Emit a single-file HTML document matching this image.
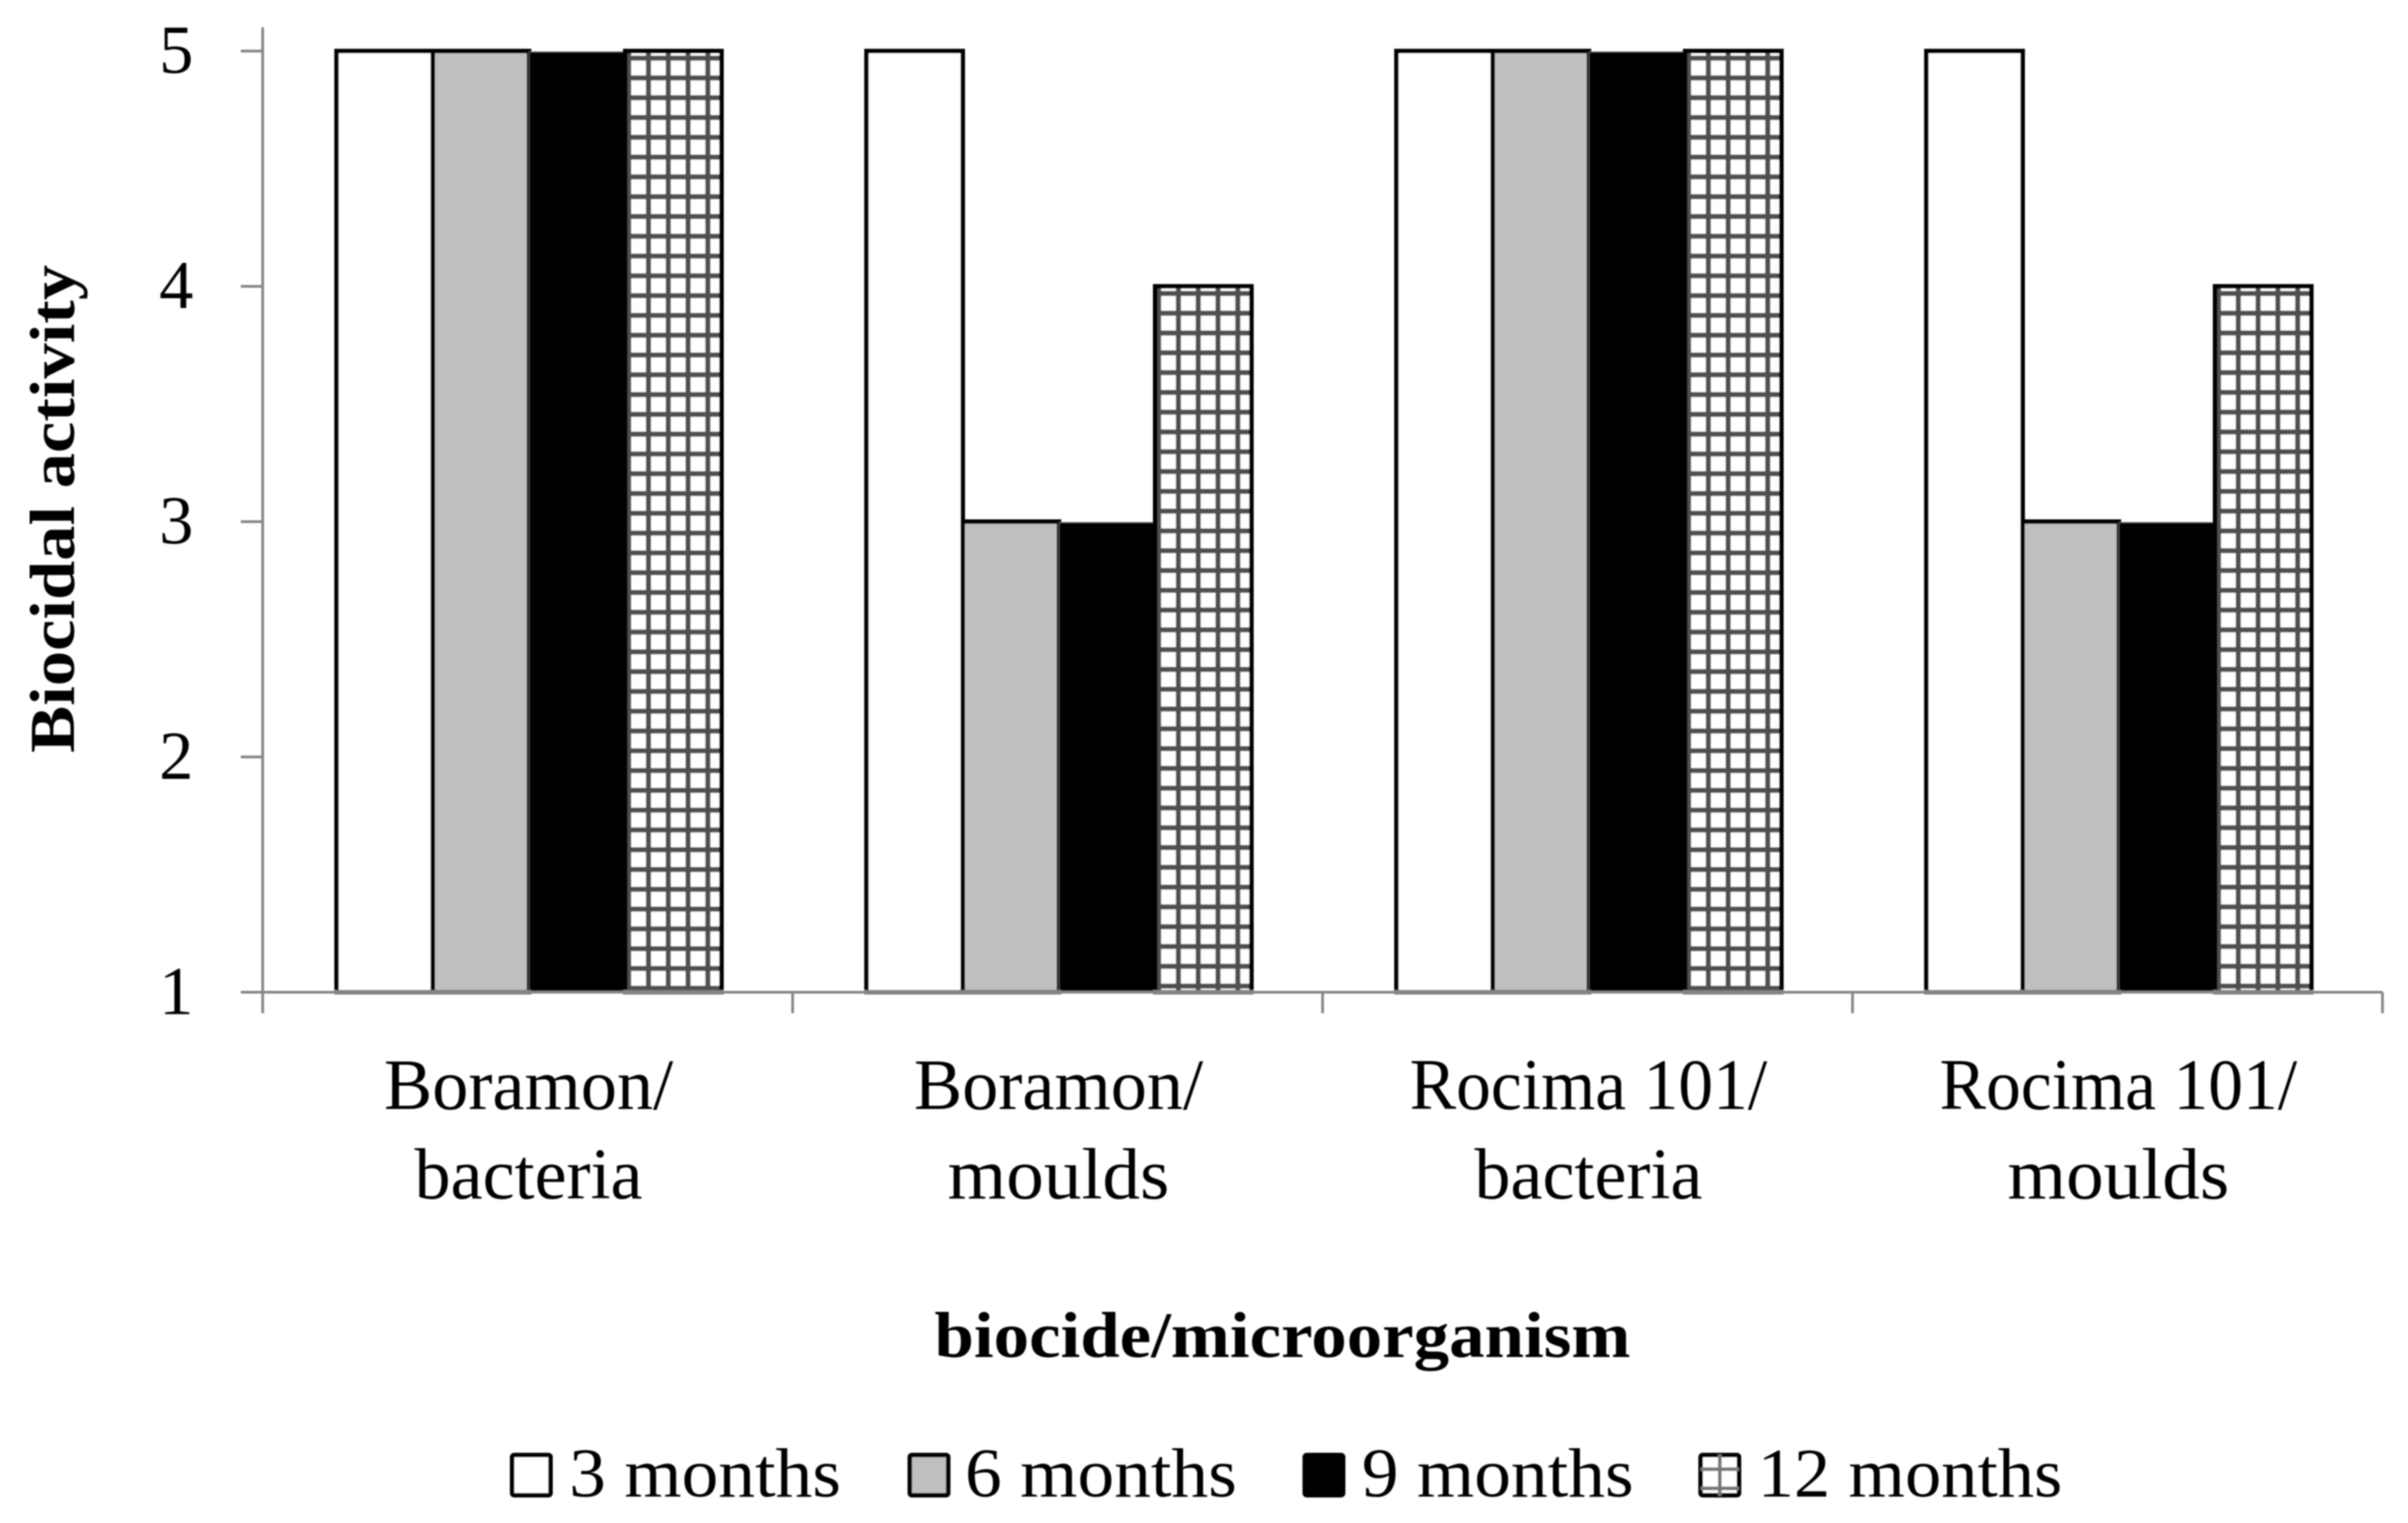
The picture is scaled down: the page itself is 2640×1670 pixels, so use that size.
<!DOCTYPE html>
<html lang="en">
<head>
<meta charset="utf-8">
<title>Biocidal activity chart</title>
<style>
html,body{margin:0;padding:0;background:#fff;}
body{width:2640px;height:1670px;overflow:hidden;}
svg{display:block;}
text{font-family:"Liberation Serif",serif;fill:#000;}
</style>
</head>
<body>
<svg id="chart" xmlns="http://www.w3.org/2000/svg" width="2640" height="1670" viewBox="0 0 2640 1670">
  <defs>
    <pattern id="grid-hatch" patternUnits="userSpaceOnUse" width="21.7" height="21.7">
      <rect width="21.7" height="21.7" fill="#fff"/>
      <rect x="0" y="0" width="5.5" height="21.7" fill="#505050"/>
      <rect x="0" y="0" width="21.7" height="5.5" fill="#505050"/>
    </pattern>
    <filter id="soft" x="-2%" y="-2%" width="104%" height="104%"><feGaussianBlur stdDeviation="0.8"/></filter>
  </defs>
  <g id="root" filter="url(#soft)"></g>
</svg>
<script>
const categories = [["Boramon/","bacteria"],["Boramon/","moulds"],["Rocima 101/","bacteria"],["Rocima 101/","moulds"]];
const seriesNames = ["3 months","6 months","9 months","12 months"];
const months3 = [5,5,5,5];
const months6 = [5,3,5,3];
const months9 = [5,3,5,3];
const months12 = [5,4,5,4];
const yTicks = [1,2,3,4,5];

const NS = "http://www.w3.org/2000/svg";
const root = document.getElementById("root");
const plot = {left:288, right:2612, top:56, bottom:1088, axisTop:30};
const yMin = 1, yMax = 5;
const bandW = (plot.right - plot.left) / categories.length;
const barW = 105.5;
const groupPad = 81;
const series = [months3, months6, months9, months12];
const styles = [
  {fill:"#fff", stroke:"#000", sw:5},
  {fill:"#bfbfbf", stroke:"#000", sw:5},
  {fill:"#000", stroke:"#555", sw:1},
  {fill:"url(#grid-hatch)", stroke:"#000", sw:5}
];
const labelWidth = {"Boramon/":317, "bacteria":250, "moulds":243, "Rocima 101/":392};
function yScale(v){ return plot.bottom - (v - yMin) / (yMax - yMin) * (plot.bottom - plot.top); }
function xBand(i){ return plot.left + i * bandW; }
function make(tag, attrs, parent){
  const el = document.createElementNS(NS, tag);
  for (const k in attrs) el.setAttribute(k, attrs[k]);
  (parent || root).appendChild(el);
  return el;
}

/* bars */
series.forEach(function(vals, s){
  vals.forEach(function(v, c){
    const x = xBand(c) + groupPad + s * barW;
    const y = yScale(v) + (s === 2 ? 1 : 0);
    const attrs = {x:x, y:y, width:barW, height:plot.bottom - y, fill:styles[s].fill, stroke:styles[s].stroke, "stroke-width":styles[s].sw};
    const bar = make("rect", attrs);
    
    
    if (s === 3) {
      const pat = document.getElementById("grid-hatch").cloneNode(true);
      pat.id = "grid-hatch-" + c;
      pat.setAttribute("patternTransform", "translate(" + (x + 1) + " " + (y + 5) + ")");
      root.ownerSVGElement.querySelector("defs").appendChild(pat);
      bar.setAttribute("fill", "url(#" + pat.id + ")");
    }
  });
});

/* grey foot on outlined bars, where the axis overprints the bar border */
series.forEach(function(vals, s){
  if (s === 2) return;
  vals.forEach(function(v, c){
    const x = xBand(c) + groupPad + s * barW;
    const foot = make("rect", {x:x - 2.5, y:plot.bottom - 2.5, width:barW + 5, height:5, fill:"#777"});
    
    
  });
});

/* axes */
const yAxis = make("line", {x1:plot.left, x2:plot.left, y1:plot.axisTop, y2:1111, stroke:"#868686", "stroke-width":3});


const xAxis = make("line", {x1:264, x2:plot.right, y1:plot.bottom, y2:plot.bottom, stroke:"#868686", "stroke-width":3});



yTicks.forEach(function(t){
  const y = yScale(t);
  const tick = make("line", {x1:264, x2:plot.left, y1:y, y2:y, stroke:"#868686", "stroke-width":3});
  
  
  const label = make("text", {x:212, y:y + 24, "text-anchor":"end", "font-size":75});
  
  
  label.textContent = t;
});

for (let i = 0; i <= categories.length; i++) {
  const x = xBand(i);
  const tick = make("line", {x1:x, x2:x, y1:plot.bottom, y2:1111, stroke:"#868686", "stroke-width":3});
  
  
}

categories.forEach(function(lines, c){
  const cx = xBand(c) + bandW / 2 + 1;
  lines.forEach(function(line, l){
    const label = make("text", {x:cx, y:1216 + l * 98, "text-anchor":"middle", "font-size":79, textLength:labelWidth[line], lengthAdjust:"spacingAndGlyphs"});
    
    
    label.textContent = line;
  });
});

/* titles */
const yTitle = make("text", {transform:"translate(81 558) rotate(-90)", "text-anchor":"middle", "font-size":70, "font-weight":"bold", textLength:535, lengthAdjust:"spacingAndGlyphs"});


yTitle.textContent = "Biocidal activity";
const xTitle = make("text", {x:1406, y:1488, "text-anchor":"middle", "font-size":71, "font-weight":"bold", textLength:763, lengthAdjust:"spacingAndGlyphs"});


xTitle.textContent = "biocide/microorganism";

/* legend */
const legendSwatchX = [561.5, 997.5, 1430.5, 1864.5];
const legendTextX = [624, 1058, 1493, 1927];
const legendTextW = [298, 298, 298, 334];
seriesNames.forEach(function(name, s){
  const swatch = make("rect", {x:legendSwatchX[s], y:1595.5, width:42, height:44, rx:2, fill:s === 3 ? "#fff" : styles[s].fill, stroke:"#000", "stroke-width":5});
  
  
  if (s === 3) {
    const h1 = make("line", {x1:legendSwatchX[s], x2:legendSwatchX[s] + 42, y1:1611, y2:1611, stroke:"#777", "stroke-width":4});
    
    
    const h2 = make("line", {x1:legendSwatchX[s], x2:legendSwatchX[s] + 42, y1:1632, y2:1632, stroke:"#777", "stroke-width":4});
    
    
    const v1 = make("line", {x1:legendSwatchX[s] + 21, x2:legendSwatchX[s] + 21, y1:1595, y2:1640, stroke:"#777", "stroke-width":4});
    
    
  }
  const label = make("text", {x:legendTextX[s], y:1641, "font-size":76, textLength:legendTextW[s], lengthAdjust:"spacingAndGlyphs"});
  
  
  label.textContent = name;
});
</script>
</body>
</html>
